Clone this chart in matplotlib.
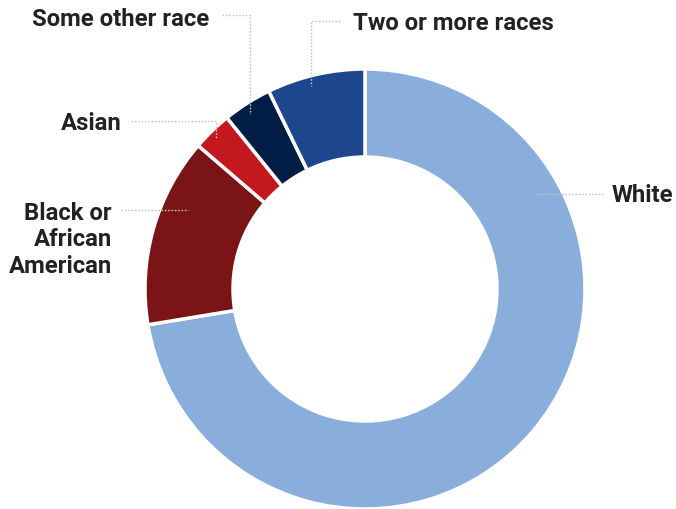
import matplotlib.pyplot as plt

# ---------------------------------------------------
# DATA
# ---------------------------------------------------

races = ["White", "Black or African American", "Asian", "Some other race", "Two or more races"]
shares = [72.4, 13.9, 2.9, 3.6, 7.2]
colors = ["#8aaedb", "#7a1416", "#c4181f", "#001e45", "#1c478c"]

# ---------------------------------------------------
# FIGURE (axes in pixel units, y measured upward)
# ---------------------------------------------------

W, H = 676, 510
fig = plt.figure(figsize=(W / 100, H / 100), dpi=100)
ax = fig.add_axes([0, 0, 1, 1])

ax.pie(
    shares,
    colors=colors,
    radius=220,
    center=(365, H - 290),
    startangle=90,
    counterclock=False,
    wedgeprops=dict(width=88, edgecolor="white", linewidth=2.5),
)

ax.set_xlim(0, W)
ax.set_ylim(0, H)
ax.set_aspect("equal")
ax.axis("off")


def py(y):
    return H - y


line_kw = dict(color="#c4c4c4", lw=1, ls=(0, (1.2, 1.2)), zorder=5)
text_kw = dict(fontsize=17.2, fontweight="bold", color="#222222",
               family=["Roboto", "DejaVu Sans"], va="center")

# White
ax.plot([535, 605], [py(195), py(195)], **line_kw)
ax.text(612, py(196), "White", ha="left", **text_kw)

# Black or African American
ax.plot([121, 188], [py(211), py(211)], **line_kw)
ax.text(112, py(240), "Black or\nAfrican\nAmerican", ha="right",
        multialignment="right", linespacing=1.2, **text_kw)

# Asian
ax.plot([131, 216, 216], [py(122), py(122), py(140)], **line_kw)
ax.text(122, py(123), "Asian", ha="right", **text_kw)

# Some other race
ax.plot([222, 250, 250], [py(16), py(16), py(115)], **line_kw)
ax.text(209, py(20), "Some other race", ha="right", **text_kw)

# Two or more races
ax.plot([340, 311, 311], [py(22), py(22), py(87)], **line_kw)
ax.text(353, py(24), "Two or more races", ha="left", **text_kw)

fig.savefig("out.png", dpi=100, facecolor="white")
